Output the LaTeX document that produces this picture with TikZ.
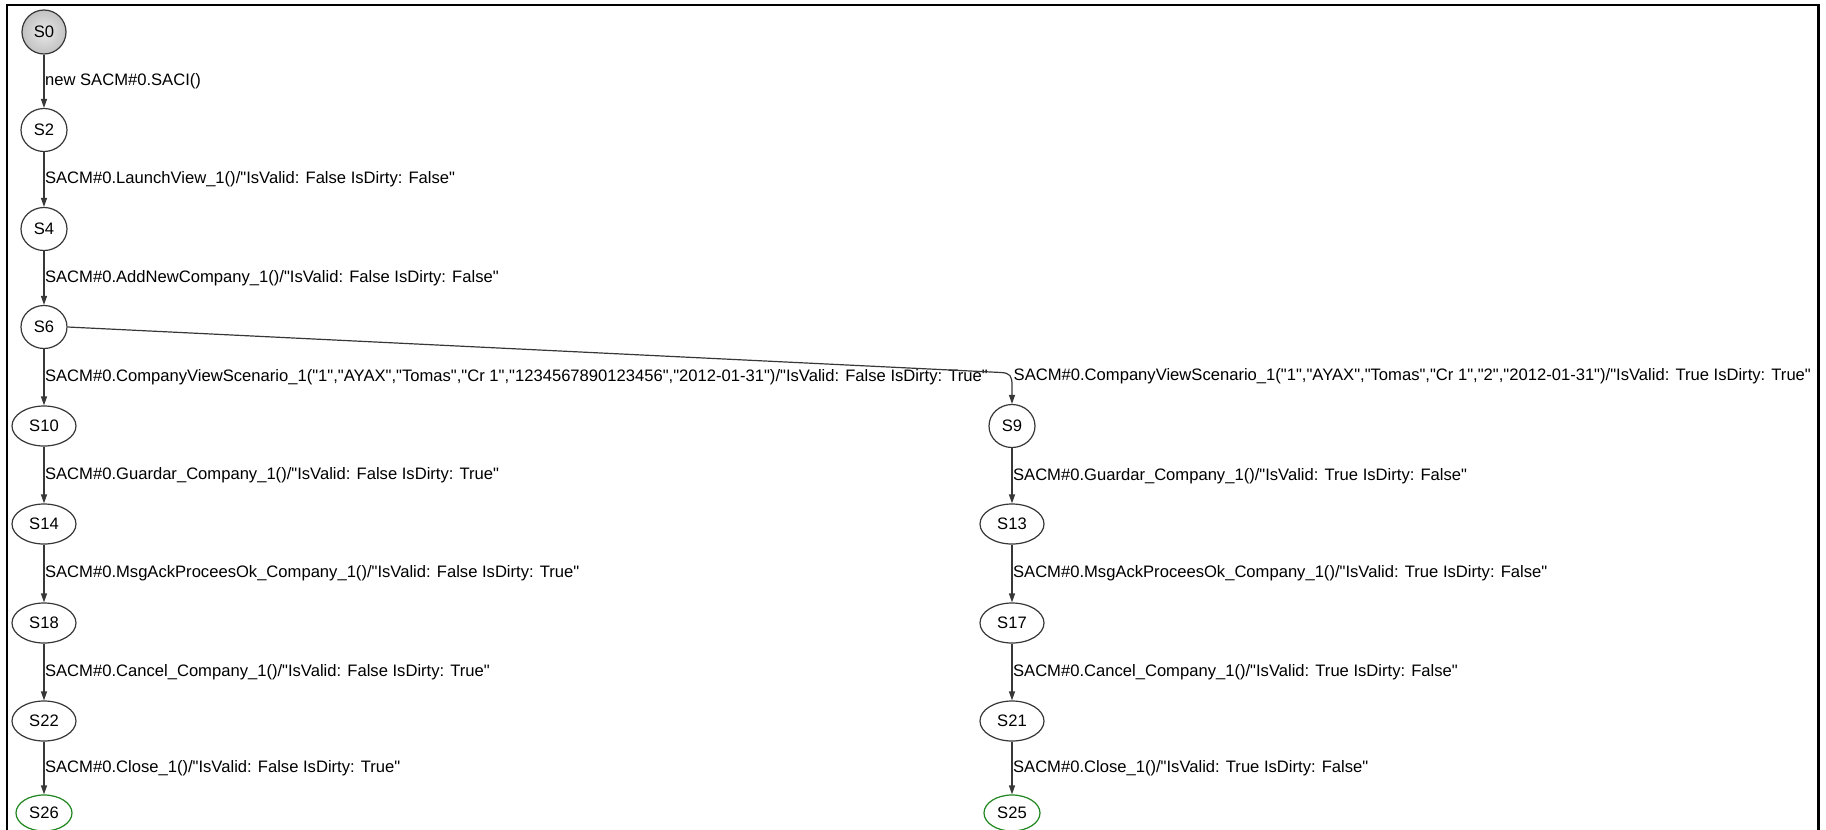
\documentclass[tikz,border=0pt]{standalone}
\usepackage{fontspec}
\setmainfont{Liberation Sans}[Ligatures=TeXOff]
\usetikzlibrary{arrows.meta,shapes.geometric}
\definecolor{edgegray}{RGB}{55,55,55}
\definecolor{finalgreen}{RGB}{30,135,30}
\begin{document}
\begin{tikzpicture}[x=1pt,y=-1pt,
  txt/.style={font=\fontsize{16.6}{20}\selectfont},
  state/.style={ellipse,draw=edgegray,line width=1.2pt,inner sep=0pt,txt},
  smallstate/.style={state,minimum width=46pt,minimum height=43pt},
  widestate/.style={state,minimum width=64pt,minimum height=40pt},
  finalstate/.style={state,draw=finalgreen,minimum width=56pt,minimum height=36pt},
  initstate/.style={circle,draw=edgegray,line width=1.2pt,inner sep=0pt,minimum size=44pt,
    inner color=gray!18,outer color=gray!48,txt},
  trans/.style={draw=edgegray,line width=1.2pt,-{Triangle[length=9pt,width=6pt]}},
  lbl/.style={txt,anchor=west,inner sep=0.5pt}]
\useasboundingbox (0,0) rectangle (1826,830);
% outer frame
\draw[line width=2.5pt] (7,5) rectangle (1818.5,845);

% left branch
\node[initstate]  (S0)  at (44,32)  {S0};
\node[smallstate] (S2)  at (44,130) {S2};
\node[smallstate] (S4)  at (44,229) {S4};
\node[smallstate] (S6)  at (44,327) {S6};
\node[widestate]  (S10) at (44,426) {S10};
\node[widestate]  (S14) at (44,524) {S14};
\node[widestate]  (S18) at (44,623) {S18};
\node[widestate]  (S22) at (44,721) {S22};
\node[finalstate] (S26) at (44,813) {S26};

% right branch
\node[smallstate] (S9)  at (1012,426) {S9};
\node[widestate]  (S13) at (1012,524) {S13};
\node[widestate]  (S17) at (1012,623) {S17};
\node[widestate]  (S21) at (1012,721) {S21};
\node[finalstate] (S25) at (1012,813) {S25};

% transitions of the left branch
\draw[trans] (S0.south) -- (S2.north)
  node[lbl,midway] (t0) {new SACM\#0.SACI()};
\draw[trans] (S2.south) -- (S4.north)
  node[lbl,midway] (t2) {SACM\#0.LaunchView\_1()/"IsValid: False IsDirty: False"};
\draw[trans] (S4.south) -- (S6.north)
  node[lbl,midway] (t4) {SACM\#0.AddNewCompany\_1()/"IsValid: False IsDirty: False"};
\draw[trans] (S6.south) -- (S10.north)
  node[lbl,midway] (t6a) {SACM\#0.CompanyViewScenario\_1("1","AYAX","Tomas","Cr 1","1234567890123456","2012-01-31")/"IsValid: False IsDirty: True"};
\draw[trans] (S10.south) -- (S14.north)
  node[lbl,midway] (t10) {SACM\#0.Guardar\_Company\_1()/"IsValid: False IsDirty: True"};
\draw[trans] (S14.south) -- (S18.north)
  node[lbl,midway] (t14) {SACM\#0.MsgAckProceesOk\_Company\_1()/"IsValid: False IsDirty: True"};
\draw[trans] (S18.south) -- (S22.north)
  node[lbl,midway] (t18) {SACM\#0.Cancel\_Company\_1()/"IsValid: False IsDirty: True"};
\draw[trans] (S22.south) -- (S26.north)
  node[lbl,midway] (t22) {SACM\#0.Close\_1()/"IsValid: False IsDirty: True"};

% long transition S6 -> S9
\coordinate (k1) at (1001,372.5);
\coordinate (k2) at (1012,385);
\draw[trans] (S6.east) -- (k1) .. controls (1010,373) and (1012,376) .. (k2) -- (S9.north);
\node[lbl] (t6b) at (1013,376) {SACM\#0.CompanyViewScenario\_1("1","AYAX","Tomas","Cr 1","2","2012-01-31")/"IsValid: True IsDirty: True"};

% transitions of the right branch
\draw[trans] (S9.south) -- (S13.north)
  node[lbl,midway] (t9) {SACM\#0.Guardar\_Company\_1()/"IsValid: True IsDirty: False"};
\draw[trans] (S13.south) -- (S17.north)
  node[lbl,midway] (t13) {SACM\#0.MsgAckProceesOk\_Company\_1()/"IsValid: True IsDirty: False"};
\draw[trans] (S17.south) -- (S21.north)
  node[lbl,midway] (t17) {SACM\#0.Cancel\_Company\_1()/"IsValid: True IsDirty: False"};
\draw[trans] (S21.south) -- (S25.north)
  node[lbl,midway] (t21) {SACM\#0.Close\_1()/"IsValid: True IsDirty: False"};
\end{tikzpicture}
\end{document}
